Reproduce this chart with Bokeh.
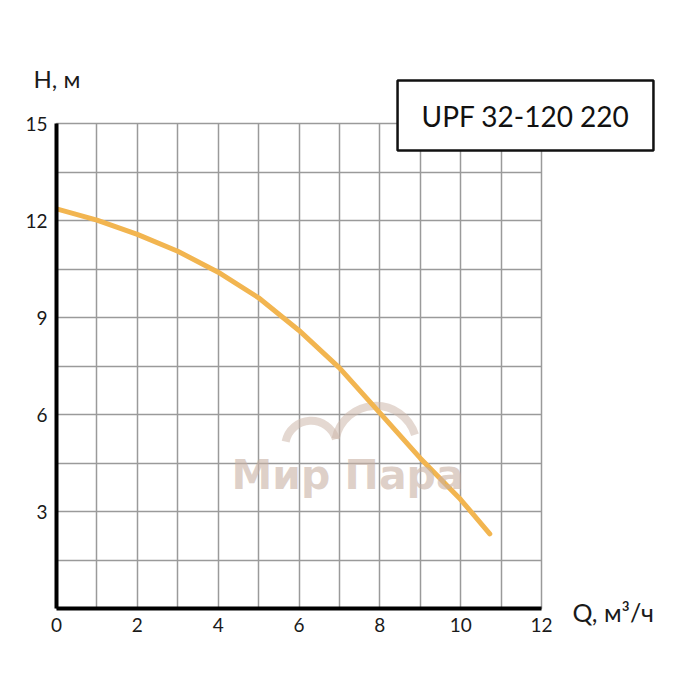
from bokeh.plotting import figure
from bokeh.models import Range1d, FixedTicker, Label
from bokeh.embed import file_html
from bokeh.resources import INLINE
import numpy as np

# pump curve UPF 32-120 220
flow = [0, 1, 2, 3, 4, 5, 6, 7, 8, 9, 10, 10.72]
head = [12.36, 12.01, 11.57, 11.05, 10.40, 9.61, 8.60, 7.44, 6.05, 4.65, 3.37, 2.31]

x_ticks = [0, 2, 4, 6, 8, 10, 12]
y_ticks = [3, 6, 9, 12, 15]
x_grid = [1, 2, 3, 4, 5, 6, 7, 8, 9, 10, 11]
y_grid = [1.5, 3, 4.5, 6, 7.5, 9, 10.5, 12, 13.5]

model_name = "UPF 32-120 220"
watermark = "Мир Пара"

FONT = "Lato"

p = figure(width=684, height=684, x_range=Range1d(0, 12), y_range=Range1d(0, 15),
           output_backend="svg", toolbar_location=None,
           min_border_left=56, min_border_right=143, min_border_top=123, min_border_bottom=76)
p.background_fill_color = "white"
p.border_fill_color = "white"
p.outline_line_color = "#9a9a9a"
p.outline_line_width = 1.5

for ax, ticks in ((p.xaxis[0], x_ticks), (p.yaxis[0], y_ticks)):
    ax.ticker = FixedTicker(ticks=ticks)
    ax.axis_line_color = "black"
    ax.axis_line_width = 4
    ax.major_tick_line_color = None
    ax.minor_tick_line_color = None
    ax.major_label_text_font = FONT
    ax.major_label_text_font_size = "19px"
    ax.major_label_text_color = "#1a1a1a"
    ax.major_label_standoff = 3

p.xgrid.ticker = FixedTicker(ticks=x_grid)
p.ygrid.ticker = FixedTicker(ticks=y_grid)
for g in (p.xgrid, p.ygrid):
    g.grid_line_color = "#9a9a9a"
    g.grid_line_width = 1.5

# faint watermark
p.arc(x=[6.3, 7.9], y=[5.0, 5.0], radius=[26, 41], radius_units="screen",
      start_angle=0.3, end_angle=np.pi - 0.2, line_color="#cdb8ac", line_width=8, line_alpha=0.55)
p.add_layout(Label(x=7.2, y=4.14, text=watermark, text_align="center", text_baseline="middle",
                   text_font="DejaVu Sans", text_font_style="bold", text_font_size="41px",
                   text_color="#c8b1a4", text_alpha=0.6))

p.line(flow, head, line_color="#F2B550", line_width=5, line_cap="round")

# texts outside the frame live in side panels (center annotations are clipped)
p.add_layout(Label(x=33, y=78, x_units="canvas", y_units="canvas", text="H, м",
                   text_baseline="alphabetic",
                   text_font=FONT, text_font_size="24px", text_color="#1a1a1a"), "above")
p.add_layout(Label(x=572, y=611, x_units="canvas", y_units="canvas", text="Q, м³/ч",
                   text_baseline="alphabetic",
                   text_font=FONT, text_font_size="25px", text_color="#1a1a1a"), "right")
p.add_layout(Label(x=525, y=115, x_units="canvas", y_units="canvas", text=model_name,
                   text_align="center", text_baseline="middle", padding=(24, 18),
                   background_fill_color="white", border_line_color="#111111",
                   border_line_width=2.5, text_font=FONT, text_font_size="28px",
                   text_color="#111111"), "above")

open("out.html", "w").write(file_html(p, INLINE))
